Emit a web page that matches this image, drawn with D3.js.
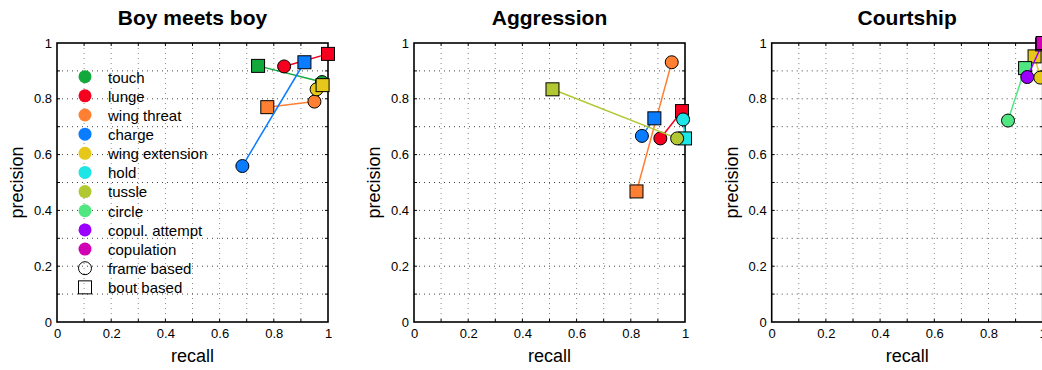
<!DOCTYPE html>
<html>
<head>
<meta charset="utf-8">
<script src="https://cdn.jsdelivr.net/npm/d3@7"></script>
<style>
  html, body { margin: 0; padding: 0; background: #fff; overflow: hidden; }
  svg { display: block; font-family: "Liberation Sans", Arial, Helvetica, sans-serif; }
</style>
</head>
<body>
<svg id="chart" width="1042" height="370"></svg>
<script>
// Behaviour classes and their colours (legend order)
const behaviors = ["touch", "lunge", "wing threat", "charge", "wing extension",
                   "hold", "tussle", "circle", "copul. attempt", "copulation"];
const behaviorColors = ["#13a83c", "#f5001e", "#ff8033", "#0a7cff", "#e6c81a",
                        "#1ee6e6", "#b2c832", "#50e682", "#9b00ff", "#d000b4"];

// Axis ticks
const tickValues = [0, 0.2, 0.4, 0.6, 0.8, 1];
const tickLabels = ["0", "0.2", "0.4", "0.6", "0.8", "1"];

// Panel titles
const panelTitles = ["Boy meets boy", "Aggression", "Courtship"];

// Boy meets boy
const boyBehaviors = ["touch", "lunge", "wing threat", "charge", "wing extension"];
const boyFrameRecall    = [0.978, 0.838, 0.950, 0.684, 0.958];
const boyFramePrecision = [0.860, 0.916, 0.790, 0.559, 0.834];
const boyBoutRecall     = [0.742, 1.000, 0.776, 0.913, 0.980];
const boyBoutPrecision  = [0.918, 0.961, 0.770, 0.931, 0.849];

// Aggression
const aggBehaviors = ["lunge", "wing threat", "charge", "hold", "tussle"];
const aggFrameRecall    = [0.909, 0.951, 0.841, 0.993, 0.971];
const aggFramePrecision = [0.658, 0.931, 0.667, 0.726, 0.658];
const aggBoutRecall     = [0.989, 0.821, 0.887, 1.000, 0.511];
const aggBoutPrecision  = [0.756, 0.468, 0.730, 0.658, 0.834];

// Courtship
const courtBehaviors = ["wing extension", "circle", "copul. attempt", "copulation"];
const courtFrameRecall    = [0.991, 0.872, 0.943, 1.000];
const courtFramePrecision = [0.876, 0.722, 0.878, 1.000];
const courtBoutRecall     = [0.970, 0.935, 0.998, 1.000];
const courtBoutPrecision  = [0.952, 0.910, 0.995, 1.000];

const panelData = [
  [boyBehaviors, boyFrameRecall, boyFramePrecision, boyBoutRecall, boyBoutPrecision],
  [aggBehaviors, aggFrameRecall, aggFramePrecision, aggBoutRecall, aggBoutPrecision],
  [courtBehaviors, courtFrameRecall, courtFramePrecision, courtBoutRecall, courtBoutPrecision]
];

const color = d3.scaleOrdinal().domain(behaviors).range(behaviorColors);

const svg = d3.select("#chart");
const panelLeft = [57, 414, 771.7];
const plotW = 271, plotTop = 43, plotH = 279;
const markerR = 6.5, squareSide = 13;

panelData.forEach((pd, pi) => {
  const [names, fr, fp, br, bp] = pd;
  const left = panelLeft[pi];
  const x = d3.scaleLinear().domain([0, 1]).range([left, left + plotW]);
  const y = d3.scaleLinear().domain([0, 1]).range([plotTop + plotH, plotTop]);
  const g = svg.append("g");

  // dotted grid every 0.1
  const gridVals = x.ticks(10).filter(v => v > 0 && v < 1);
  g.append("g").selectAll("line").data(gridVals).join("line")
    .attr("x1", d => x(d)).attr("x2", d => x(d))
    .attr("y1", plotTop).attr("y2", plotTop + plotH)
    .attr("stroke", "#8a8a8a").attr("stroke-width", 1)
    .attr("stroke-dasharray", "1,4");
  g.append("g").selectAll("line").data(gridVals).join("line")
    .attr("y1", d => y(d)).attr("y2", d => y(d))
    .attr("x1", left).attr("x2", left + plotW)
    .attr("stroke", "#444").attr("stroke-width", 1)
    .attr("stroke-dasharray", "1,4");

  // small inward ticks on all four sides
  const tickG = g.append("g").attr("stroke", "#000").attr("stroke-width", 1);
  gridVals.forEach(v => {
    tickG.append("line").attr("x1", x(v)).attr("x2", x(v)).attr("y1", plotTop + plotH).attr("y2", plotTop + plotH - 3);
    tickG.append("line").attr("x1", x(v)).attr("x2", x(v)).attr("y1", plotTop).attr("y2", plotTop + 3);
    tickG.append("line").attr("y1", y(v)).attr("y2", y(v)).attr("x1", left).attr("x2", left + 3);
    tickG.append("line").attr("y1", y(v)).attr("y2", y(v)).attr("x1", left + plotW).attr("x2", left + plotW - 3);
  });

  // axes labels via d3 axes
  const fmt = d => tickLabels[tickValues.indexOf(d)];
  const xAxis = g.append("g").attr("transform", `translate(0,${plotTop + plotH})`)
    .call(d3.axisBottom(x).tickValues(tickValues).tickFormat(fmt).tickSize(0).tickPadding(7));
  const yAxis = g.append("g").attr("transform", `translate(${left},0)`)
    .call(d3.axisLeft(y).tickValues(tickValues).tickFormat(fmt).tickSize(0).tickPadding(5));
  [xAxis, yAxis].forEach(a => {
    a.select(".domain").remove();
    a.selectAll("text").attr("font-size", 13).attr("fill", "#000")
      .attr("font-family", "Liberation Sans, Arial, sans-serif");
  });

  // box
  g.append("rect").attr("x", left).attr("y", plotTop).attr("width", plotW).attr("height", plotH)
    .attr("fill", "none").attr("stroke", "#000").attr("stroke-width", 1.6);

  // title and axis labels
  g.append("text").attr("x", left + plotW / 2).attr("y", 25).attr("text-anchor", "middle")
    .attr("font-size", 21).attr("font-weight", "bold").text(panelTitles[pi]);
  g.append("text").attr("x", left + plotW / 2).attr("y", 362).attr("text-anchor", "middle")
    .attr("font-size", 18).text("recall");
  g.append("text").attr("transform", `translate(${left - 34},${plotTop + plotH / 2}) rotate(-90)`)
    .attr("text-anchor", "middle").attr("font-size", 18).text("precision");

  // markers: connecting line, frame-based circle, bout-based square
  names.forEach((name, i) => {
    const c = color(name);
    g.append("line")
      .attr("x1", x(fr[i])).attr("y1", y(fp[i]))
      .attr("x2", x(br[i])).attr("y2", y(bp[i]))
      .attr("stroke", c).attr("stroke-width", 1.5);
    g.append("circle")
      .attr("cx", x(fr[i])).attr("cy", y(fp[i])).attr("r", markerR)
      .attr("fill", c).attr("stroke", "#000").attr("stroke-width", 1);
    g.append("rect")
      .attr("x", x(br[i]) - squareSide / 2).attr("y", y(bp[i]) - squareSide / 2)
      .attr("width", squareSide).attr("height", squareSide)
      .attr("fill", c).attr("stroke", "#000").attr("stroke-width", 1);
  });

  // legend in the first panel
  if (pi === 0) {
    const lg = g.append("g");
    const rowY = i => 76.7 + i * 19.15;
    behaviors.forEach((b, i) => {
      lg.append("circle").attr("cx", 85).attr("cy", rowY(i)).attr("r", markerR).attr("fill", color(b));
      lg.append("text").attr("x", 108).attr("y", rowY(i) + 5.8).attr("font-size", 15).text(b);
    });
    const n = behaviors.length;
    lg.append("circle").attr("cx", 85).attr("cy", rowY(n)).attr("r", markerR)
      .attr("fill", "none").attr("stroke", "#000").attr("stroke-width", 1);
    lg.append("text").attr("x", 108).attr("y", rowY(n) + 5.8).attr("font-size", 15).text("frame based");
    lg.append("rect").attr("x", 85 - squareSide / 2).attr("y", rowY(n + 1) - squareSide / 2)
      .attr("width", squareSide).attr("height", squareSide)
      .attr("fill", "none").attr("stroke", "#000").attr("stroke-width", 1);
    lg.append("text").attr("x", 108).attr("y", rowY(n + 1) + 5.8).attr("font-size", 15).text("bout based");
  }
});
</script>
</body>
</html>
